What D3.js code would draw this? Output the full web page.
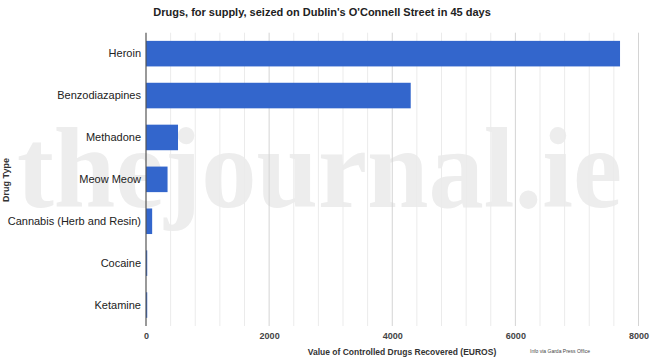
<!DOCTYPE html>
<html><head><meta charset="utf-8">
<script src="https://cdn.jsdelivr.net/npm/d3@7"></script>
<style>body{margin:0;background:#fff}svg{display:block}text{font-family:"Liberation Sans",Arial,sans-serif}</style>
</head><body>
<script>
const categories = ["Heroin","Benzodiazapines","Methadone","Meow Meow","Cannabis (Herb and Resin)","Cocaine","Ketamine"];
const values = [7700, 4300, 520, 350, 100, 20, 20];
const xTicks = [0, 2000, 4000, 6000, 8000];
const title = "Drugs, for supply, seized on Dublin's O'Connell Street in 45 days";
const xTitle = "Value of Controlled Drugs Recovered (EUROS)";
const yTitle = "Drug Type";
const credit = "Info via Garda Press Office";
const watermark = "thejournal.ie";

const W = 650, H = 358;
const m = {left:146, right:12, top:32.7, bottom:32};
const svg = d3.select("body").append("svg").attr("width",W).attr("height",H);

// watermark
svg.append("text").attr("x",17).attr("y",207)
  .attr("textLength",605).attr("lengthAdjust","spacingAndGlyphs")
  .style("font-family","'Liberation Serif',serif").style("font-weight","bold")
  .style("font-size","114px").attr("fill","#ededed").text(watermark);

const x = d3.scaleLinear().domain([0,8000]).range([m.left, 638.5]);
const y = d3.scaleBand().domain(categories).range([m.top, H-m.bottom]).paddingInner(0.39).paddingOuter(0.195);

// gridlines
const minor = d3.range(400, 8001, 400).filter(v => v % 2000 !== 0);
svg.append("g").selectAll("line").data(minor).join("line")
  .attr("x1",d=>x(d)).attr("x2",d=>x(d)).attr("y1",m.top).attr("y2",H-m.bottom)
  .attr("stroke","#ebebeb").attr("stroke-width",1);
svg.append("g").selectAll("line").data(xTicks.slice(1)).join("line")
  .attr("x1",d=>x(d)).attr("x2",d=>x(d)).attr("y1",m.top).attr("y2",H-m.bottom)
  .attr("stroke","#d4d4d4").attr("stroke-width",1);

// bars
svg.append("g").selectAll("rect").data(values).join("rect")
  .attr("x",x(0)).attr("y",(d,i)=>y(categories[i]))
  .attr("width",d=>x(d)-x(0)).attr("height",y.bandwidth())
  .attr("fill","#3366cc");

// baseline
svg.append("line").attr("x1",x(0)).attr("x2",x(0)).attr("y1",m.top).attr("y2",H-m.bottom)
  .attr("stroke","#555").attr("stroke-width",1.2);

// y labels
const yAxis = d3.axisLeft(y).tickSize(0).tickPadding(5);
const gy = svg.append("g").attr("transform",`translate(${x(0)},0)`).call(yAxis);
gy.select(".domain").remove();
gy.selectAll("text").style("font-size","11px").attr("fill","#222").style("font-family","'Liberation Sans',Arial,sans-serif");

// x labels
const xAxis = d3.axisBottom(x).tickValues(xTicks).tickSize(0).tickPadding(0).tickFormat(d3.format("d"));
const gx = svg.append("g").attr("transform",`translate(0,333)`).call(xAxis);
gx.select(".domain").remove();
gx.selectAll("text").style("font-size","9px").style("font-weight","bold").attr("fill","#444").style("font-family","'Liberation Sans',Arial,sans-serif");

// titles
svg.append("text").attr("x",322).attr("y",16).attr("text-anchor","middle")
  .style("font-size","11px").style("font-weight","bold").attr("fill","#222").text(title);
svg.append("text").attr("x",402).attr("y",355).attr("text-anchor","middle")
  .style("font-size","8.5px").style("font-weight","bold").attr("fill","#333").text(xTitle);
svg.append("text").attr("transform","translate(9,180) rotate(-90)").attr("text-anchor","middle")
  .style("font-size","9px").style("font-weight","bold").attr("fill","#333").text(yTitle);
svg.append("text").attr("x",530).attr("y",353)
  .style("font-size","5px").attr("fill","#444").text(credit);
</script>
</body></html>
